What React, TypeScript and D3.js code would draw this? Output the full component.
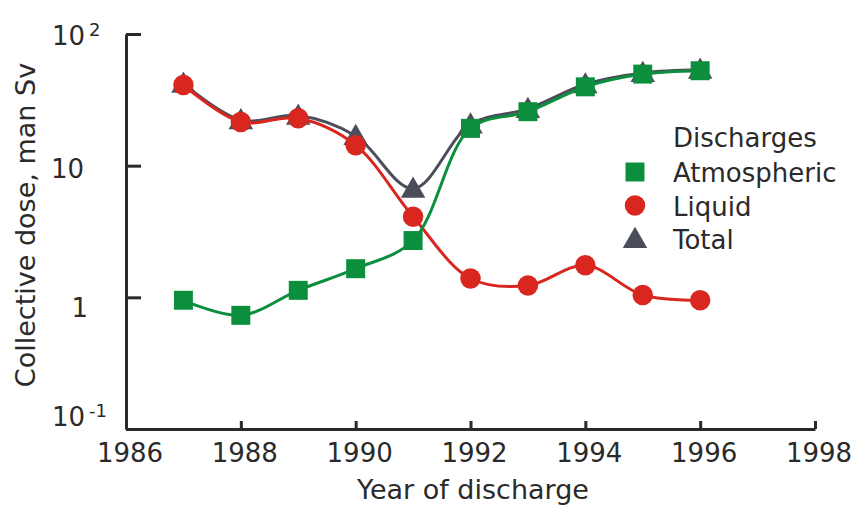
import React, { useEffect, useRef } from 'react';
import * as d3 from 'd3';

// years of discharge
const years = [1987, 1988, 1989, 1990, 1991, 1992, 1993, 1994, 1995, 1996];
// collective dose, man Sv
const atmospheric = [0.95, 0.73, 1.13, 1.65, 2.7, 19.2, 25.7, 39.7, 49.6, 52.6];
const liquid = [41, 21.5, 22.9, 14.3, 4.1, 1.39, 1.23, 1.75, 1.04, 0.95];
const total = [42, 22.2, 24, 16.8, 6.7, 20.6, 27, 41.5, 50.6, 53.5];

const xTicks = [1986, 1988, 1990, 1992, 1994, 1996, 1998];
const yTicks = [100, 10, 1, 0.1];
const legendLabels = ['Atmospheric', 'Liquid', 'Total'];

const GREEN = '#0b8f3d';
const RED = '#d9261f';
const GRAY = '#4b4e5a';
const INK = '#2a2a2a';
const FONT = '"DejaVu Sans", sans-serif';

const App = () => {
    const ref = useRef<SVGSVGElement>(null);

    useEffect(() => {
        const svg = d3.select(ref.current);
        svg.selectAll('*').remove();

        const x = d3.scaleLinear().domain([1986, 1998]).range([126, 815]);
        const y = d3.scaleLog().domain([0.1, 100]).range([429, 34]);

        // axes (ticks point into the plot)
        const yAxis = d3.axisLeft(y).tickValues(yTicks).tickSize(-15).tickSizeOuter(0).tickFormat(() => '');
        const xAxis = d3.axisBottom(x).tickValues(xTicks).tickSize(-8).tickSizeOuter(0).tickFormat(() => '');

        svg.append('g').attr('transform', `translate(0,${y(0.1)})`).call(xAxis)
            .call(g => g.selectAll('path,line').attr('stroke', INK).attr('stroke-width', 3));
        svg.append('g').attr('transform', `translate(${x(1986)},0)`).call(yAxis)
            .call(g => g.selectAll('path,line').attr('stroke', INK).attr('stroke-width', 3));

        // x tick labels
        svg.append('g').selectAll('text').data(xTicks).join('text')
            .attr('x', d => x(d) + 4)
            .attr('y', 462)
            .attr('text-anchor', 'middle')
            .attr('font-family', FONT).attr('font-size', 26).attr('fill', INK)
            .text(d => d);

        // y tick labels, powers of ten written as 10^n where needed
        const nudge: Record<string, number> = { '100': 2, '10': 3, '1': 11, '0.1': -12 };
        yTicks.forEach(v => {
            const cy = y(v) + nudge[String(v)];
            const exp = Math.round(Math.log10(v));
            const t = svg.append('text')
                .attr('y', cy + 9)
                .attr('font-family', FONT).attr('font-size', 26).attr('fill', INK);
            if (exp === 0 || exp === 1) {
                t.attr('x', exp === 0 ? 88 : 84).attr('text-anchor', 'end').text(String(v));
            } else {
                t.attr('x', 52).text('10');
                t.append('tspan').attr('font-size', 18).attr('dx', 4).attr('dy', -9)
                    .text(exp < 0 ? `-${-exp}` : String(exp));
            }
        });

        // axis titles
        svg.append('text')
            .attr('x', 473).attr('y', 499)
            .attr('text-anchor', 'middle')
            .attr('font-family', FONT).attr('font-size', 27).attr('fill', INK)
            .text('Year of discharge');
        svg.append('text')
            .attr('transform', 'translate(35,225) rotate(-90)')
            .attr('text-anchor', 'middle')
            .attr('font-family', FONT).attr('font-size', 27).attr('fill', INK)
            .text('Collective dose, man Sv');

        const line = d3.line<[number, number]>()
            .x(d => x(d[0]))
            .y(d => y(d[1]))
            .curve(d3.curveCatmullRom.alpha(0.5));

        const series = [
            { values: total, color: GRAY, shape: 'triangle' },
            { values: liquid, color: RED, shape: 'circle' },
            { values: atmospheric, color: GREEN, shape: 'square' },
        ];

        const symbolFor = (shape: string) =>
            shape === 'square'
                ? d3.symbol(d3.symbolSquare, 360)
                : shape === 'circle'
                    ? d3.symbol(d3.symbolCircle, 330)
                    : d3.symbol(d3.symbolTriangle, 260);

        series.forEach(s => {
            const pts = years.map((yr, i) => [yr, s.values[i]] as [number, number]);
            svg.append('path')
                .attr('d', line(pts))
                .attr('fill', 'none')
                .attr('stroke', s.color)
                .attr('stroke-width', 3);
            svg.append('g').selectAll('path').data(pts).join('path')
                .attr('transform', d => `translate(${x(d[0])},${y(d[1]) + (s.shape === 'triangle' ? 2 : 0)})`)
                .attr('d', symbolFor(s.shape)())
                .attr('fill', s.color);
        });

        // legend
        const legend = svg.append('g');
        legend.append('text')
            .attr('x', 673).attr('y', 147)
            .attr('font-family', FONT).attr('font-size', 26).attr('fill', INK)
            .text('Discharges');
        const shapes = ['square', 'circle', 'triangle'];
        const colors = [GREEN, RED, GRAY];
        legendLabels.forEach((label, i) => {
            const cy = 172 + i * 33.5;
            legend.append('path')
                .attr('transform', `translate(635,${cy + (i === 2 ? 2 : 0)})`)
                .attr('d', symbolFor(shapes[i])())
                .attr('fill', colors[i]);
            legend.append('text')
                .attr('x', 673).attr('y', cy + 10)
                .attr('font-family', FONT).attr('font-size', 26).attr('fill', INK)
                .text(label);
        });
    }, []);

    return <svg ref={ref} width={856} height={507} style={{ display: 'block', position: 'absolute', left: 0, top: 0 }} />;
};

export default App;
